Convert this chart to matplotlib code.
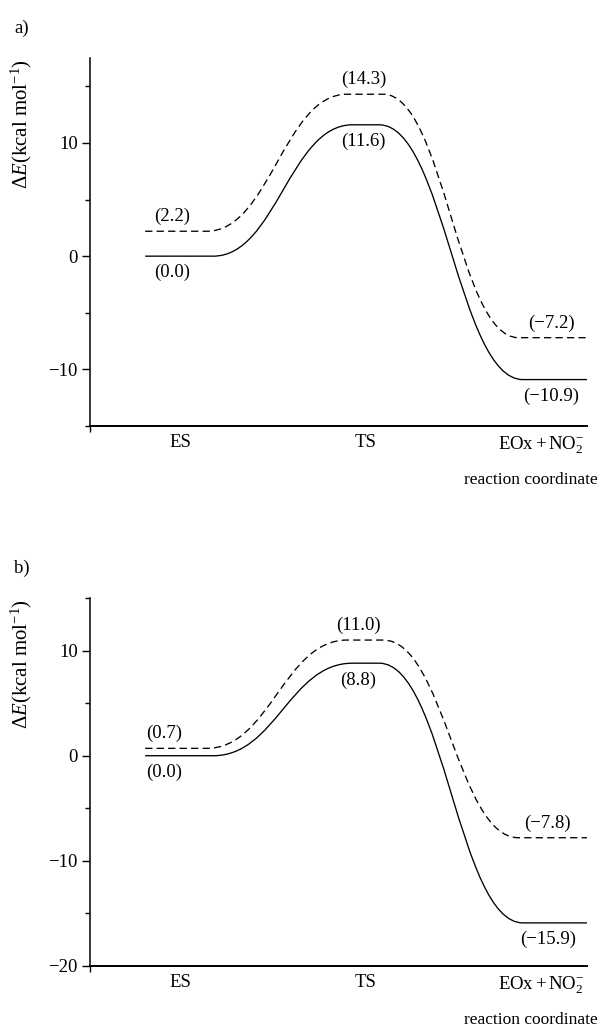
import matplotlib
matplotlib.use('Agg')
import matplotlib.pyplot as plt
from matplotlib.path import Path
from matplotlib.patches import PathPatch
from matplotlib.ticker import MultipleLocator

plt.rcParams['font.family'] = 'Liberation Serif'
plt.rcParams['mathtext.fontset'] = 'custom'
plt.rcParams['mathtext.rm'] = 'Liberation Serif'
plt.rcParams['mathtext.it'] = 'Liberation Serif:italic'
plt.rcParams['font.size'] = 13.5

# stages along the reaction coordinate
stages = ['ES', 'TS', r'$\mathrm{EOx+NO_2^{-}}$']

# relative energies (kcal/mol) at ES, TS, products
a_solid = [0.0, 11.6, -10.9]
a_dashed = [2.2, 14.3, -7.2]
b_solid = [0.0, 8.8, -15.9]
b_dashed = [0.7, 11.0, -7.8]

# layout (x axis runs 0..10)
stage_x = [1.82, 5.55, 9.07]
flat_solid = [(1.11, 2.48), (5.28, 5.82), (8.71, 10.0)]
flat_dashed = [(1.11, 2.35), (5.17, 5.9), (8.62, 10.0)]


def profile(ax, energies, flats, **kw):
    k = 0.45
    verts = [(flats[0][0], energies[0]), (flats[0][1], energies[0])]
    codes = [Path.MOVETO, Path.LINETO]
    for i in range(2):
        x0 = flats[i][1]
        x1 = flats[i + 1][0]
        d = x1 - x0
        y0 = energies[i]
        y1 = energies[i + 1]
        verts += [(x0 + k * d, y0), (x1 - k * d, y1), (x1, y1), (flats[i + 1][1], y1)]
        codes += [Path.CURVE4, Path.CURVE4, Path.CURVE4, Path.LINETO]
    ax.add_patch(PathPatch(Path(verts, codes), fill=False, **kw))


def lab(v):
    return '(' + f'{v:.1f}'.replace('-', '\u2212') + ')'


def panel(ax, solid, dashed, ylim, lx, tag):
    profile(ax, solid, flat_solid, color='black', lw=0.95)
    profile(ax, dashed, flat_dashed, color='black', lw=0.95, linestyle=(0, (5.5, 3.2)))
    for i in range(3):
        ax.annotate(lab(dashed[i]), (lx[i], dashed[i]), xytext=(0, 10.5),
                    textcoords='offset points', ha='center', va='center')
        ax.annotate(lab(solid[i]), (lx[i], solid[i]), xytext=(0, -12),
                    textcoords='offset points', ha='center', va='center')
    ax.set_xlim(0, 10)
    ax.set_ylim(ylim)
    ax.spines['top'].set_visible(False)
    ax.spines['right'].set_visible(False)
    ax.spines['left'].set_linewidth(1.1)
    ax.spines['bottom'].set_linewidth(1.4)
    ax.yaxis.set_major_locator(MultipleLocator(10))
    ax.yaxis.set_minor_locator(MultipleLocator(5))
    ax.tick_params(axis='y', which='major', direction='out', length=5.8, width=1, pad=3)
    ax.tick_params(axis='y', which='minor', direction='out', length=3.3, width=1)
    ax.set_xticks(stage_x)
    ax.set_xticklabels(stages)
    ax.set_xticks([0], minor=True)
    ax.tick_params(axis='x', which='major', length=0, pad=6)
    ax.tick_params(axis='x', which='minor', direction='out', length=4.5, width=1)
    ax.set_ylabel('\u0394$E$(kcal mol$^{-1}$)', fontsize=15)
    ax.yaxis.set_label_coords(-0.112, 0.82)
    ax.text(1.022, -0.147, 'reaction coordinate', transform=ax.transAxes,
            ha='right', va='center', fontsize=12.5)
    ax.text(-0.137, 1.081, tag, transform=ax.transAxes, ha='center', va='center')


fig = plt.figure(figsize=(6.02, 10.28), dpi=100)
ax_a = fig.add_axes([90 / 602, 1 - 426 / 1028, 497 / 602, 368 / 1028])
ax_b = fig.add_axes([90 / 602, 1 - 966 / 1028, 497 / 602, 368 / 1028])

panel(ax_a, a_solid, a_dashed, (-15, 17.5), [1.65, 5.51, 9.28], 'a)')
panel(ax_b, b_solid, b_dashed, (-20, 15), [1.49, 5.40, 9.21], 'b)')

fig.savefig('out.png', dpi=100)
